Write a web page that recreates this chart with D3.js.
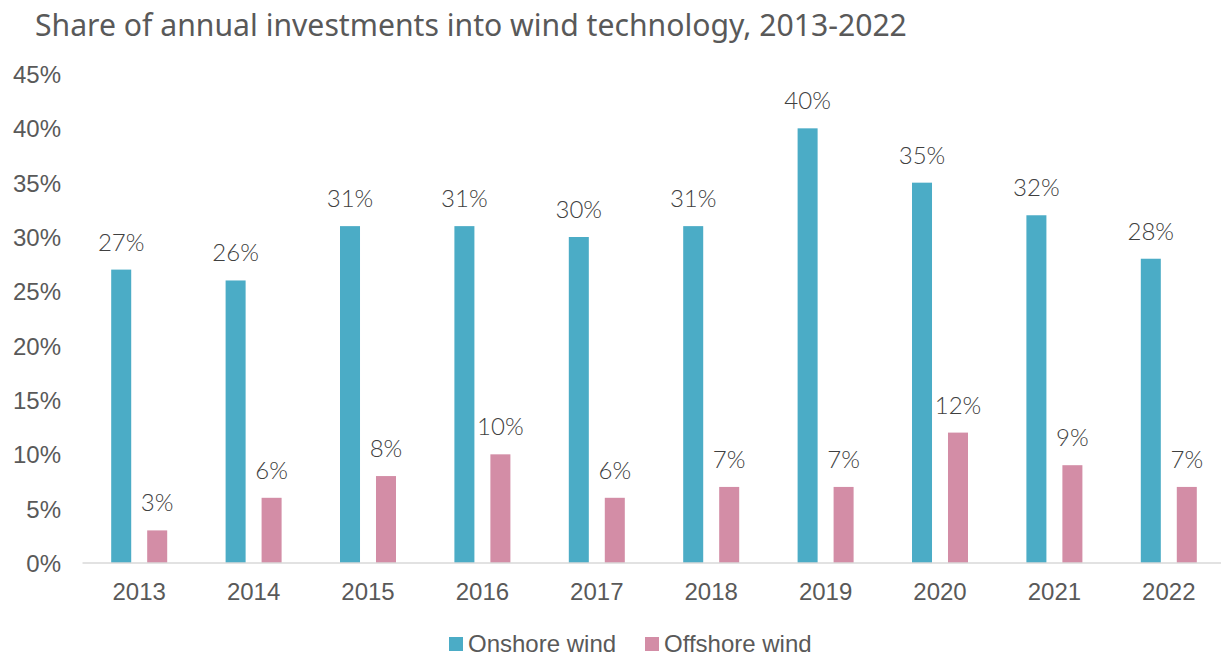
<!DOCTYPE html>
<html>
<head>
<meta charset="utf-8">
<script src="https://cdn.jsdelivr.net/npm/d3@7"></script>
<style>
  html, body { margin: 0; padding: 0; background: #ffffff; }
  svg { display: block; }
</style>
</head>
<body>
<svg id="chart" width="1221" height="658"></svg>
<script>
// Chart data
const years = ["2013", "2014", "2015", "2016", "2017", "2018", "2019", "2020", "2021", "2022"];
const onshore = [27, 26, 31, 31, 30, 31, 40, 35, 32, 28];
const offshore = [3, 6, 8, 10, 6, 7, 7, 12, 9, 7];
const seriesNames = ["Onshore wind", "Offshore wind"];
const seriesColors = ["#4BACC6", "#D38DA6"];
const yTicks = [0, 5, 10, 15, 20, 25, 30, 35, 40, 45];
const titleText = "Share of annual investments into wind technology, 2013-2022";

const svg = d3.select("#chart");
const axisFont = "'Liberation Sans', Arial, sans-serif";

const x = d3.scaleBand().domain(years).range([82, 1226]).paddingInner(0).paddingOuter(0);
const y = d3.scaleLinear().domain([0, 45]).range([563, 74]);
const bw = x.bandwidth();
const xSub = d3.scaleBand().domain(seriesNames)
  .range([bw / 2 - 28, bw / 2 + 28]).paddingInner(0.444).paddingOuter(0);

// Title
svg.append("text")
  .attr("x", 35).attr("y", 36)
  .attr("font-family", "'Noto Sans', 'Open Sans', sans-serif")
  .attr("font-size", 28)
  .attr("fill", "#595959")
  .text(titleText)
  .each(function () {
    const w = this.getComputedTextLength();
    if (w > 0) d3.select(this).attr("font-size", 28 * 872 / w);
  });

// Y axis labels
const yAxis = d3.axisLeft(y).tickValues(yTicks).tickFormat(d => d + "%").tickSize(0).tickPadding(0);
const yg = svg.append("g").attr("transform", "translate(61,0)").call(yAxis);
yg.select(".domain").remove();
yg.selectAll("text")
  .attr("font-family", axisFont)
  .attr("font-size", 24)
  .attr("fill", "#595959")
  .attr("dy", "0.35em");

// Bars
const rows = years.map((yr, i) => ({ year: yr, values: [onshore[i], offshore[i]] }));
const groups = svg.append("g").selectAll("g.year")
  .data(rows).join("g")
  .attr("class", "year")
  .attr("transform", d => `translate(${x(d.year)},0)`);

groups.selectAll("rect")
  .data(d => d.values.map((v, j) => ({ name: seriesNames[j], value: v, color: seriesColors[j] })))
  .join("rect")
  .attr("x", d => xSub(d.name))
  .attr("width", xSub.bandwidth())
  .attr("y", d => y(d.value))
  .attr("height", d => y(0) - y(d.value))
  .attr("fill", d => d.color);

// Data labels
groups.selectAll("text.val")
  .data(d => d.values.map((v, j) => ({ name: seriesNames[j], value: v })))
  .join("text")
  .attr("class", "val")
  .attr("x", d => xSub(d.name) + xSub.bandwidth() / 2)
  .attr("y", d => y(d.value) - 19)
  .attr("text-anchor", "middle")
  .attr("font-family", "Lato, 'Open Sans', sans-serif")
  .attr("font-weight", 300)
  .attr("font-size", 24)
  .attr("fill", "#404040")
  .text(d => d.value + "%");

// X axis baseline and year labels
const xAxis = d3.axisBottom(x).tickSize(0).tickPadding(0);
const xg = svg.append("g").attr("transform", `translate(0,${y(0)})`).call(xAxis);
xg.select(".domain").attr("stroke", "#D9D9D9").attr("stroke-width", 1.5)
  .attr("d", `M82.5,0H1221`);
xg.selectAll("text")
  .attr("y", 37)
  .attr("dy", 0)
  .attr("font-family", axisFont)
  .attr("font-size", 24)
  .attr("fill", "#595959");

// Legend
const legendX = [449, 645];
const legend = svg.append("g").selectAll("g")
  .data(seriesNames).join("g")
  .attr("transform", (d, i) => `translate(${legendX[i]},637)`);
legend.append("rect")
  .attr("width", 14).attr("height", 14)
  .attr("fill", (d, i) => seriesColors[i]);
legend.append("text")
  .attr("x", 19).attr("y", 14.5)
  .attr("font-family", axisFont)
  .attr("font-size", 24)
  .attr("fill", "#595959")
  .text(d => d);
</script>
</body>
</html>
